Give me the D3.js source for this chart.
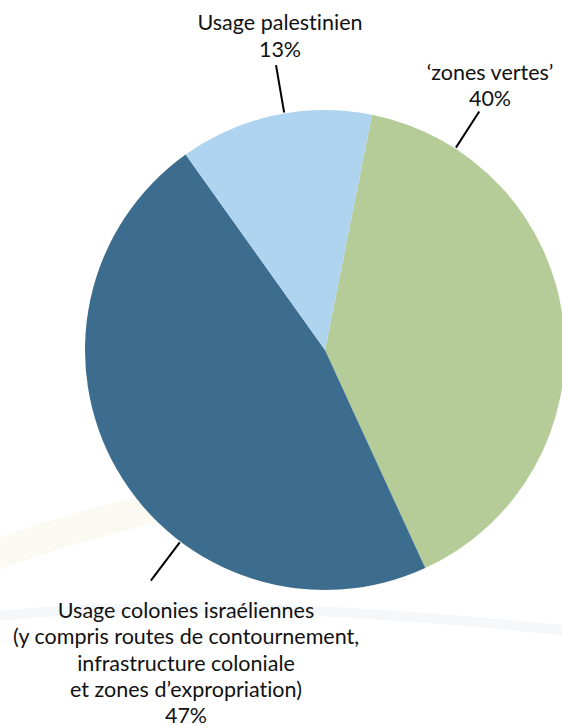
<!DOCTYPE html>
<html><head><meta charset="utf-8">
<script src="https://cdn.jsdelivr.net/npm/d3@7"></script>
<style>html,body{margin:0;padding:0;background:#fff;overflow:hidden}svg{display:block}text{font-variant-ligatures:none;font-feature-settings:"liga" 0,"clig" 0,"dlig" 0}</style>
</head><body>
<svg id="c" width="562" height="727"></svg>
<script>
// Data
const categories = ["'zones vertes'", "Usage colonies israéliennes", "Usage palestinien"];
const values = [40, 47, 13];
const colors = ["#b5cc98", "#3d6d8e", "#aed4ef"];
const labelLines = [
  ["\u2018zones vertes\u2019", "40%"],
  ["Usage colonies israéliennes", "(y compris routes de contournement,", "infrastructure coloniale", "et zones d\u2019expropriation)", "47%"],
  ["Usage palestinien", "13%"]
];

// Layout
const W = 562, H = 727, cx = 325, cy = 350, R = 240;
const startDeg = 11.3;
const leaderFrac = [0.15, 0.365, 0.55];
const leaderOuter = [284, 289, 289];
const labelPos = [[490, 80], [186, 618], [280, 29.5]];
const lineH = [25.5, 26.3, 27];

const svg = d3.select("#c");

// faint background swooshes
svg.append("path")
  .attr("d", "M -30 565 Q 120 505 330 475")
  .attr("fill", "none").attr("stroke", "#fafaf3").attr("stroke-width", 30);
svg.append("path")
  .attr("d", "M -20 618 Q 200 592 580 632")
  .attr("fill", "none").attr("stroke", "#f5f8fa").attr("stroke-width", 10);

const pie = d3.pie().sort(null).value(d => d)
  .startAngle(startDeg * Math.PI / 180)
  .endAngle(startDeg * Math.PI / 180 + 2 * Math.PI);
const arcs = pie(values);
const arc = d3.arc().innerRadius(0).outerRadius(R);

const g = svg.append("g").attr("transform", `translate(${cx},${cy})`);
g.selectAll("path.slice").data(arcs).enter().append("path")
  .attr("class", "slice")
  .attr("d", arc)
  .attr("fill", (d, i) => colors[i]);

// leaders
arcs.forEach((a, i) => {
  const ang = a.startAngle + (a.endAngle - a.startAngle) * leaderFrac[i];
  const p = r => [r * Math.sin(ang), -r * Math.cos(ang)];
  const [x1, y1] = p(R + 1), [x2, y2] = p(leaderOuter[i]);
  g.append("line").attr("x1", x1).attr("y1", y1).attr("x2", x2).attr("y2", y2)
    .attr("stroke", "#000").attr("stroke-width", 2);
});

// labels
labelLines.forEach((lines, i) => {
  const t = svg.append("text")
    .attr("x", labelPos[i][0]).attr("y", labelPos[i][1])
    .attr("text-anchor", "middle")
    .attr("font-family", "Lato, 'Open Sans', sans-serif")
    .attr("font-size", 21.5).attr("fill", "#111");
  lines.forEach((l, j) => {
    t.append("tspan").attr("x", labelPos[i][0]).attr("dy", j === 0 ? 0 : lineH[i]).text(l);
  });
});
</script>
</body></html>
